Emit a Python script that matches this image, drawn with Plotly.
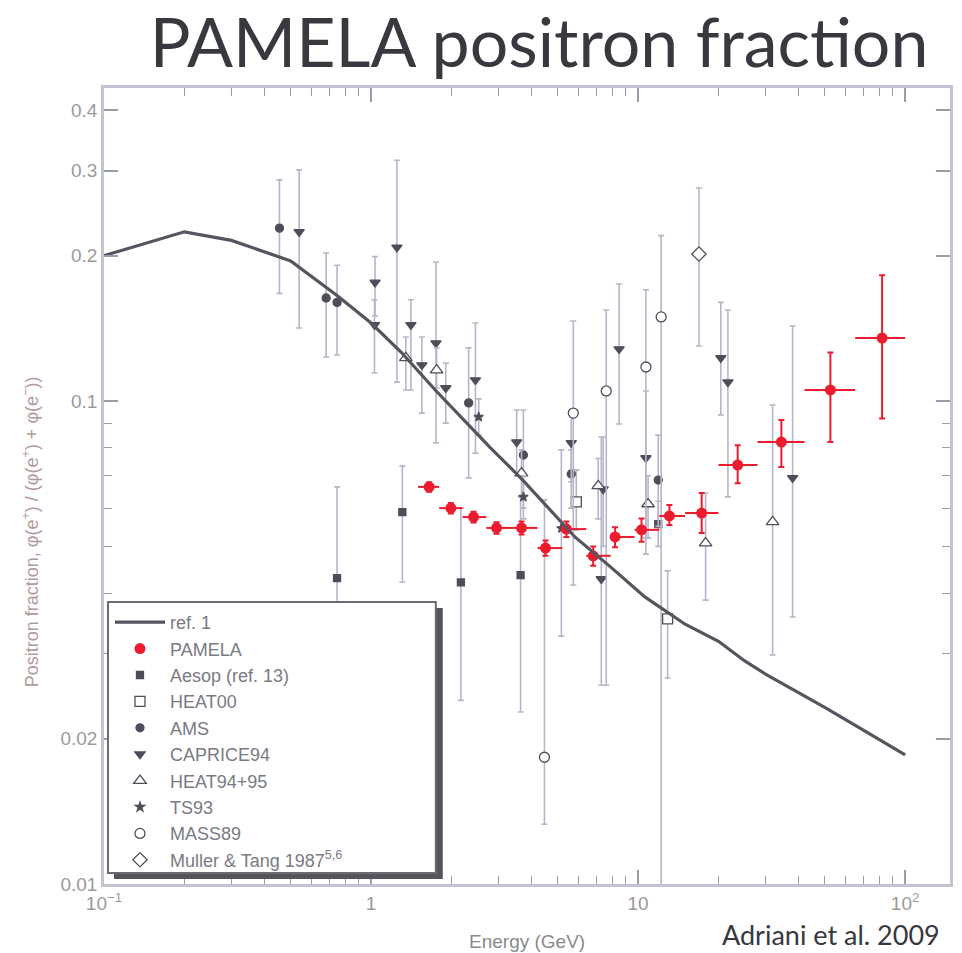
import plotly.graph_objects as go

# ---------------- data ----------------
# model curve (ref. 1)
ref_E = [0.1, 0.2, 0.3, 0.5, 0.75, 1.0, 1.3, 1.75, 2.8, 3.7, 5.8, 7.9, 10.6, 15, 20, 25, 30, 50, 70, 100]
ref_F = [0.200, 0.224, 0.215, 0.195, 0.165, 0.145, 0.126, 0.105, 0.080, 0.0686, 0.0523, 0.0453, 0.0393,
         0.0345, 0.0318, 0.0290, 0.0272, 0.0232, 0.0208, 0.0185]

# PAMELA
pam_lo = [1.5, 1.8, 2.2, 2.7, 3.4, 4.2, 5.2, 6.4, 7.9, 9.7, 12, 15, 20, 28, 42, 65]
pam_hi = [1.8, 2.2, 2.7, 3.4, 4.2, 5.2, 6.4, 7.9, 9.7, 12, 15, 20, 28, 42, 65, 100]
pam_E = [1.65, 1.99, 2.42, 2.95, 3.66, 4.50, 5.39, 6.79, 8.20, 10.3, 13.1, 17.3, 23.6, 34.4, 52.5, 82.0]
pam_F = [0.0664, 0.0600, 0.0575, 0.0546, 0.0546, 0.0496, 0.0543, 0.0478, 0.0523, 0.0541, 0.0578,
         0.0586, 0.0737, 0.0822, 0.1054, 0.135]
pam_up = [0.0015, 0.0015, 0.0015, 0.0015, 0.0017, 0.0018, 0.0020, 0.0022, 0.0025, 0.0030, 0.0031,
          0.0059, 0.0073, 0.0091, 0.0206, 0.047]
pam_dn = [0.0015, 0.0015, 0.0015, 0.0015, 0.0017, 0.0018, 0.0020, 0.0022, 0.0025, 0.0030, 0.0024,
          0.0053, 0.0061, 0.0092, 0.0232, 0.043]

# Aesop (ref. 13)
aesop_E = [0.746, 1.31, 2.17, 3.63, 11.9]
aesop_F = [0.043, 0.0589, 0.0421, 0.0436, 0.0556]
aesop_hi = [0.0664, 0.0733, 0.0600, 0.0633, 0.062]
aesop_lo = [0.032, 0.0422, 0.0240, 0.0227, 0.050]

# HEAT00
heat00_E = [5.87, 12.9]
heat00_F = [0.0618, 0.0354]
heat00_hi = [0.072, 0.0445]
heat00_lo = [0.054, 0.0267]

# AMS
ams_E = [0.454, 0.679, 0.746, 2.32, 3.72, 5.62, 11.9]
ams_F = [0.228, 0.1634, 0.160, 0.0991, 0.0773, 0.0706, 0.0686]
ams_hi = [0.287, 0.2025, 0.191, 0.1288, 0.0958, 0.0792, 0.085]
ams_lo = [0.167, 0.1233, 0.1245, 0.0693, 0.060, 0.060, 0.055]

# CAPRICE94
cap_E = [0.538, 1.035, 1.03, 1.25, 1.41, 1.55, 1.75, 1.905, 2.46, 3.51, 5.62, 7.40, 7.28, 8.49, 10.7, 20.4, 21.7, 37.9]
cap_F = [0.224, 0.176, 0.1437, 0.208, 0.1437, 0.1187, 0.1318, 0.1064, 0.1105, 0.0822, 0.0819, 0.0657,
         0.0428, 0.1281, 0.0762, 0.1228, 0.1094, 0.0693]
cap_hi = [0.301, 0.199, 0.162, 0.315, 0.162, 0.1357, 0.194, 0.1198, 0.145, 0.0958, 0.095, 0.0842,
          0.0842, 0.1747, 0.1049, 0.160, 0.1543, 0.143]
cap_lo = [0.1416, 0.150, 0.1143, 0.1094, 0.1054, 0.0944, 0.0819, 0.0900, 0.0780, 0.070, 0.068, 0.050,
          0.0258, 0.0896, 0.0482, 0.0936, 0.0633, 0.0357]

# HEAT94+95
heat94_E = [1.35, 1.76, 3.66, 7.09, 10.9, 17.9, 31.9]
heat94_F = [0.1228, 0.1159, 0.0709, 0.0667, 0.0612, 0.0508, 0.0562]
heat94_hi = [0.1357, 0.1288, 0.0792, 0.0760, 0.0700, 0.0645, 0.0981]
heat94_lo = [0.1054, 0.1064, 0.0633, 0.057, 0.052, 0.0387, 0.0298]

# TS93
ts93_E = [2.53, 3.72, 5.16]
ts93_F = [0.0927, 0.0633, 0.0545]
ts93_hi = [0.101, 0.070, 0.0792]
ts93_lo = [0.085, 0.057, 0.0326]

# MASS89
mass_E = [4.46, 5.72, 7.60, 10.7, 12.2]
mass_F = [0.0183, 0.0944, 0.1049, 0.1176, 0.1493]
mass_hi = [0.0624, 0.1464, 0.1543, 0.17, 0.22]
mass_lo = [0.0133, 0.0416, 0.0258, 0.052, 0.005]

# Muller & Tang 1987
mt_E = [16.9]
mt_F = [0.2015]
mt_hi = [0.276]
mt_lo = [0.130]

x_tickvals = [0.1, 1, 10, 100]
x_ticktext = ["10<sup>−1</sup>", "1", "10", "10<sup>2</sup>"]
y_tickvals = [0.01, 0.02, 0.1, 0.2, 0.3, 0.4]
y_ticktext = ["0.01", "0.02", "0.1", "0.2", "0.3", "0.4"]
x_minor = [m * d for d in (0.1, 1, 10) for m in range(2, 10)]
y_minor = [0.03, 0.04, 0.05, 0.06, 0.07, 0.08, 0.09]

# ---------------- styling ----------------
DARK = "#4e4e5a"
ERR = "#b6b6ca"
RED = "#ec1c2e"

fig = go.Figure()


def add_exp(name, E, F, hi, lo, symbol, size, fill, rank):
    fig.add_trace(go.Scatter(
        x=E, y=F, mode="markers", name=name, legendrank=rank,
        marker=dict(symbol=symbol, size=size, color=fill, line=dict(color=DARK, width=1.3)),
        error_y=dict(type="data", symmetric=False,
                     array=[h - f for h, f in zip(hi, F)],
                     arrayminus=[f - l for f, l in zip(F, lo)],
                     color=ERR, thickness=1.6, width=3),
    ))


add_exp("Aesop (ref. 13)", aesop_E, aesop_F, aesop_hi, aesop_lo, "square-x", 7, DARK, 3)
add_exp("HEAT00", heat00_E, heat00_F, heat00_hi, heat00_lo, "square", 10, "white", 4)
add_exp("AMS", ams_E, ams_F, ams_hi, ams_lo, "circle", 8, DARK, 5)
add_exp("CAPRICE94", cap_E, cap_F, cap_hi, cap_lo, "triangle-down", 9, DARK, 6)
add_exp("HEAT94+95", heat94_E, heat94_F, heat94_hi, heat94_lo, "triangle-up", 11, "white", 7)
add_exp("TS93", ts93_E, ts93_F, ts93_hi, ts93_lo, "star", 7, DARK, 8)
add_exp("MASS89", mass_E, mass_F, mass_hi, mass_lo, "circle", 10, "white", 9)
add_exp("Muller & Tang 1987<sup>5,6</sup>", mt_E, mt_F, mt_hi, mt_lo, "diamond", 11, "white", 10)

fig.add_trace(go.Scatter(
    x=pam_E, y=pam_F, mode="markers", name="PAMELA", legendrank=2,
    marker=dict(symbol="circle", size=11, color=RED),
    error_x=dict(type="data", symmetric=False,
                 array=[h - e for h, e in zip(pam_hi, pam_E)],
                 arrayminus=[e - l for e, l in zip(pam_E, pam_lo)],
                 color=RED, thickness=2, width=0),
    error_y=dict(type="data", symmetric=False, array=pam_up, arrayminus=pam_dn,
                 color=RED, thickness=2, width=3),
))

fig.add_trace(go.Scatter(
    x=ref_E, y=ref_F, mode="lines", name="ref. 1", legendrank=1,
    line=dict(color="#55555f", width=3.2),
))

AX = "#c3c3d3"
TK = "#9a9aaa"
TICKFONT = dict(family="Liberation Sans, Arial", size=19, color="#9a9a9a")
fig.update_xaxes(
    type="log", range=[-1, 2.168],
    tickvals=x_tickvals, ticktext=x_ticktext,
    ticks="inside", ticklen=14, tickwidth=1.5, tickcolor=TK,
    minor=dict(tickvals=x_minor, ticks="inside", ticklen=8, tickwidth=1.2, tickcolor=TK),
    showline=True, linecolor=AX, linewidth=2.5, mirror="allticks",
    showgrid=False, zeroline=False, tickfont=TICKFONT,
)
fig.update_yaxes(
    type="log", range=[-2, -0.352],
    tickvals=y_tickvals, ticktext=y_ticktext,
    ticks="inside", ticklen=14, tickwidth=1.5, tickcolor=TK,
    minor=dict(tickvals=y_minor, ticks="inside", ticklen=8, tickwidth=1.2, tickcolor=TK),
    showline=True, linecolor=AX, linewidth=2.5, mirror="allticks",
    showgrid=False, zeroline=False, tickfont=TICKFONT,
)

L, R, T, B = 104, 9, 88, 69
W, H = 962, 953
pw, ph = W - L - R, H - T - B


def px_x(p):
    return (p - L) / pw


def px_y(p):
    return (H - B - p) / ph


fig.update_layout(
    width=W, height=H,
    margin=dict(l=L, r=R, t=T, b=B),
    paper_bgcolor="white", plot_bgcolor="white",
    showlegend=True,
    legend=dict(
        x=px_x(110), y=px_y(604), xanchor="left", yanchor="top",
        bgcolor="rgba(0,0,0,0)", borderwidth=0,
        font=dict(family="Liberation Sans, Arial", size=18, color="#7a7a84"),
        itemwidth=50, tracegroupgap=0,
    ),
    title=dict(
        text="PAMELA positron fraction",
        font=dict(family="Lato", size=68, color="#38383f"),
        x=539 / W, xanchor="center", y=1 - 43 / H, yanchor="middle", yref="container", xref="container",
    ),
    shapes=[
        dict(type="rect", xref="paper", yref="paper", layer="above",
             x0=px_x(114), x1=px_x(444), y0=px_y(879), y1=px_y(608),
             fillcolor="#55555c", line=dict(width=0)),
        dict(type="rect", xref="paper", yref="paper", layer="above",
             x0=px_x(108), x1=px_x(437), y0=px_y(873), y1=px_y(602),
             fillcolor="white", line=dict(color="#6a6a72", width=2)),
    ],
    annotations=[
        dict(text="Positron fraction, φ(e<sup>+</sup>) / (φ(e<sup>+</sup>) + φ(e<sup>−</sup>))",
             xref="paper", yref="paper", x=px_x(30), y=px_y(532), textangle=-90,
             showarrow=False, xanchor="center", yanchor="middle",
             font=dict(family="Liberation Sans, Arial", size=18, color="#b29a9c")),
        dict(text="Energy (GeV)", xref="paper", yref="paper", x=px_x(528), y=px_y(941),
             showarrow=False, xanchor="center", yanchor="middle",
             font=dict(family="Liberation Sans, Arial", size=19, color="#8a8a8a")),
        dict(text="Adriani et al. 2009", xref="paper", yref="paper", x=px_x(945), y=px_y(934),
             showarrow=False, xanchor="right", yanchor="middle",
             font=dict(family="Lato", size=27, color="#38383f")),
    ],
)

fig.write_html("out.html")
